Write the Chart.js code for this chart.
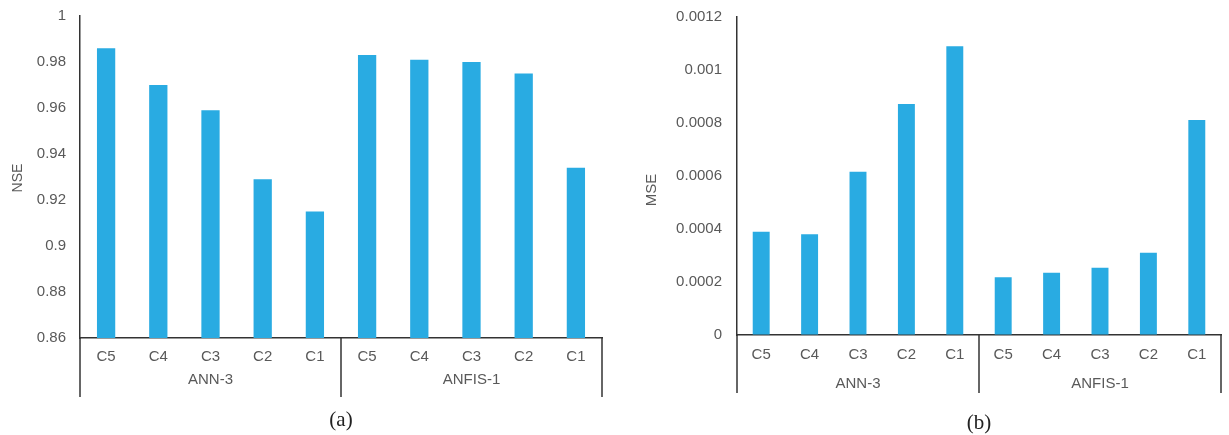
<!DOCTYPE html>
<html>
<head>
<meta charset="utf-8">
<script src="https://cdn.jsdelivr.net/npm/chart.js@4.4.0/dist/chart.umd.min.js"></script>
<style>
  body { margin: 0; background: #ffffff; }
  #wrap { position: relative; width: 1229px; height: 435px; }
  #nseBox { position: absolute; left: 0; top: 0; }
  #mseBox { position: absolute; left: 614px; top: 0; }
</style>
</head>
<body>
<div id="wrap">
  <div id="nseBox"><canvas id="nseChart" width="614" height="435"></canvas></div>
  <div id="mseBox"><canvas id="mseChart" width="615" height="435"></canvas></div>
</div>
<script>
// Data
const categories = ['C5', 'C4', 'C3', 'C2', 'C1', 'C5', 'C4', 'C3', 'C2', 'C1'];
const groups = ['ANN-3', 'ANFIS-1'];
const nseValues = [0.986, 0.970, 0.959, 0.929, 0.915, 0.983, 0.981, 0.980, 0.975, 0.934];
const mseValues = [0.00039, 0.00038, 0.000616, 0.000872, 0.00109, 0.000218, 0.000235, 0.000254, 0.00031, 0.000811];
const nseTicks = [0.86, 0.88, 0.9, 0.92, 0.94, 0.96, 0.98, 1];
const mseTicks = [0, 0.0002, 0.0004, 0.0006, 0.0008, 0.001, 0.0012];

const barColor = '#29abe2';
const textColor = '#595959';
const lineColor = '#333333';
const sans = '"Liberation Sans", Arial, sans-serif';

Chart.defaults.font.family = sans;
Chart.defaults.color = textColor;

// Draws the group dividers / labels under the x axis, the y title and the panel letter
const groupAxis = {
    id: 'groupAxis',
    afterDraw(chart, args, opts) {
        const ctx = chart.ctx;
        const area = chart.chartArea;
        const x = chart.scales.x;
        const half = categories.length / 2;

        let mid = (x.getPixelForValue(half - 1) + x.getPixelForValue(half)) / 2;
        let divs = [area.left, mid, area.right];

        ctx.save();
        ctx.strokeStyle = lineColor;
        ctx.lineWidth = 1.5;
        divs.forEach(d => {
            ctx.beginPath();
            ctx.moveTo(d, area.bottom);
            ctx.lineTo(d, area.bottom + opts.divLen);
            ctx.stroke();
        });

        ctx.fillStyle = textColor;
        ctx.font = '15px ' + sans;
        ctx.textAlign = 'center';
        ctx.textBaseline = 'middle';
        groups.forEach((g, i) => {
            let a = x.getPixelForValue(i * half);
            let b = x.getPixelForValue(i * half + half - 1);
            ctx.fillText(g, (a + b) / 2, area.bottom + opts.groupY);
        });

        // y axis title
        ctx.save();
        ctx.translate(opts.titleX, (area.top + area.bottom) / 2 + opts.titleDy);
        ctx.rotate(-Math.PI / 2);
        ctx.font = opts.titleSize + 'px ' + sans;
        ctx.fillText(opts.title, 0, 0);
        ctx.restore();

        // panel letter
        ctx.fillStyle = '#222222';
        ctx.font = '21px "Liberation Serif", "Times New Roman", serif';
        ctx.fillText(opts.panel, opts.panelX, opts.panelY);
        ctx.restore();
    }
};

function makeChart(id, values, ticks, cfg) {
    let ctx = document.getElementById(id).getContext('2d');
    return new Chart(ctx, {
        type: 'bar',
        data: {
            labels: categories,
            datasets: [{
                data: values,
                backgroundColor: barColor,
                borderWidth: 0,
                categoryPercentage: 1,
                barPercentage: 0.35
            }]
        },
        plugins: [groupAxis],
        options: {
            responsive: false,
            animation: false,
            layout: {
                padding: { top: cfg.top, right: cfg.right, left: 0, bottom: 0 }
            },
            plugins: {
                legend: { display: false },
                tooltip: { enabled: false },
                groupAxis: cfg.group
            },
            scales: {
                x: {
                    grid: { display: true, drawOnChartArea: false, drawTicks: false },
                    border: { display: true, color: lineColor, width: 1.5 },
                    ticks: { font: { size: 15 }, color: textColor, padding: cfg.xPad, maxRotation: 0, autoSkip: false },
                    afterFit: scale => { scale.height = cfg.xHeight; }
                },
                y: {
                    min: ticks[0],
                    max: ticks[ticks.length - 1],
                    grid: { display: true, drawOnChartArea: false, drawTicks: false },
                    border: { display: true, color: lineColor, width: 1.5 },
                    ticks: { font: { size: 15 }, color: textColor, padding: cfg.yPad, callback: v => String(v) },
                    afterBuildTicks: scale => { scale.ticks = ticks.map(v => ({ value: v })); },
                    // fixed width, and no extra label padding so the plot top sits where asked
                    afterFit: scale => { scale.width = cfg.yWidth; scale.paddingTop = 0; scale.paddingBottom = 0; }
                }
            }
        }
    });
}

let nseChart = makeChart('nseChart', nseValues, nseTicks, {
    top: 16, right: 12, xHeight: 97, yWidth: 80, xPad: 10, yPad: 14,
    group: { divLen: 59, groupY: 41.5, title: 'NSE', titleX: 18, titleDy: 1, titleSize: 14,
             panel: '(a)', panelX: 341, panelY: 420 }
});

let mseChart = makeChart('mseChart', mseValues, mseTicks, {
    top: 17, right: 8, xHeight: 100, yWidth: 123, xPad: 11, yPad: 15,
    group: { divLen: 58, groupY: 48.5, title: 'MSE', titleX: 38, titleDy: 14, titleSize: 15,
             panel: '(b)', panelX: 365, panelY: 423 }
});
</script>
</body>
</html>
